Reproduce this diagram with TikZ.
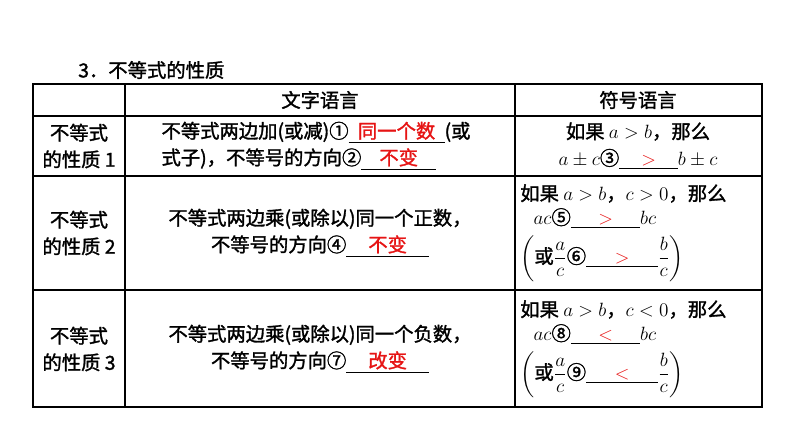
\documentclass[tikz,border=0pt]{standalone}
\usepackage{amsmath}
\usepackage{fontspec}
\setmainfont{Noto Sans CJK SC}[AutoFakeBold=1.5]
\usetikzlibrary{positioning}
\definecolor{ansred}{RGB}{230,20,20}
\newcommand{\blank}[2]{\underline{\makebox[#1]{\textcolor{ansred}{#2}}}}
\newcommand{\frc}[2]{\dfrac{#1}{#2}}

\begin{document}
\begin{tikzpicture}[x=0.75pt,y=-0.75pt,
    cell/.style={align=center,font=\fontsize{14.5}{20}\selectfont\bfseries,inner sep=0pt},
    head/.style={cell},
    grid/.style={line width=0.8pt}]
  \useasboundingbox (0,0) rectangle (794,447);
  % title
  \node[cell,anchor=west] (title) at (78,70) {3．不等式的性质};
  % table lines
  \draw[grid] (33,84) rectangle (762,407);
  \foreach \y in {116,176,290} \draw[grid] (33,\y) -- (762,\y);
  \foreach \x in {125,515} \draw[grid] (\x,84) -- (\x,407);
  % header
  \node[head] (hWord) at (320,100) {文字语言};
  \node[head] (hSym) at (638,100) {符号语言};
  % row 1
  \node[cell] (p1) at (79,146) {不等式\\的性质 1};
  \node[cell,align=left] (w1) at (316,146) {不等式两边加(或减)①\blank{72pt}{同一个数}(或\\式子)，不等号的方向②\blank{56pt}{不变}};
  \node[cell] (s1) at (638,146) {如果 $a>b$，那么\\$a\pm c$③\blank{44pt}{$>$}$b\pm c$};
  % row 2
  \node[cell] (p2) at (79,233) {不等式\\的性质 2};
  \node[cell] (w2) at (320,233) {不等式两边乘(或除以)同一个正数，\\不等号的方向④\blank{62pt}{不变}};
  \node[cell,align=left,anchor=west] (s2) at (520,233) {如果 $a>b$，$c>0$，那么\\[-2pt]\hspace*{10pt}$ac$⑤\blank{52pt}{$>$}$bc$\\[4pt]$\left(\text{或}\frc{a}{c}\text{⑥}\blank{54pt}{$>$}\frc{b}{c}\right)$};
  % row 3
  \node[cell] (p3) at (79,349) {不等式\\的性质 3};
  \node[cell] (w3) at (320,349) {不等式两边乘(或除以)同一个负数，\\不等号的方向⑦\blank{62pt}{改变}};
  \node[cell,align=left,anchor=west] (s3) at (520,349) {如果 $a>b$，$c<0$，那么\\[-2pt]\hspace*{10pt}$ac$⑧\blank{52pt}{$<$}$bc$\\[4pt]$\left(\text{或}\frc{a}{c}\text{⑨}\blank{54pt}{$<$}\frc{b}{c}\right)$};
\end{tikzpicture}
\end{document}
